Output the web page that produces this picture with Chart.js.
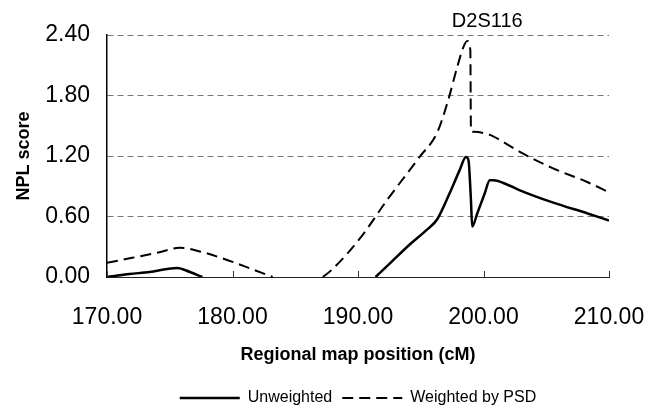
<!DOCTYPE html>
<html>
<head>
<meta charset="utf-8">
<script src="https://cdn.jsdelivr.net/npm/chart.js@4/dist/chart.umd.min.js"></script>
<style>
  html, body { margin: 0; padding: 0; background: #fff; }
  #wrap { width: 650px; height: 418px; }
</style>
</head>
<body>
<div id="wrap"><canvas id="c" width="650" height="418"></canvas></div>
<script>
// ---- Data (x = regional map position in cM, y = NPL score) ----
const unweightedX = [170.0, 171.8, 173.4, 174.8, 175.6, 176.6, 177.6, 184.0, 191.4, 192.5, 194.1, 195.5, 196.3, 197.3, 198.1, 198.6, 198.8, 199.0, 199.1, 199.5, 200.1, 200.5, 200.8, 202.0, 202.9, 205.5, 208.3, 210.0];
const unweightedY = [0.00, 0.03, 0.05, 0.08, 0.09, 0.05, 0.00, null, 0.00, 0.13, 0.32, 0.47, 0.57, 0.83, 1.06, 1.19, 1.16, 0.76, 0.50, 0.63, 0.83, 0.96, 0.96, 0.91, 0.86, 0.74, 0.63, 0.56];

const weightedX = [170.0, 172.0, 174.0, 175.8, 177.5, 180.0, 181.5, 183.2, 185.0, 187.2, 187.9, 190.2, 192.3, 194.9, 196.3, 197.2, 197.9, 198.4, 198.7, 198.95, 199.0, 199.2, 200.5, 201.3, 202.9, 205.5, 208.3, 210.0];
const weightedY = [0.14, 0.19, 0.24, 0.29, 0.25, 0.15, 0.08, 0.00, null, 0.00, 0.07, 0.39, 0.76, 1.19, 1.43, 1.76, 2.08, 2.28, 2.34, 2.25, 1.45, 1.44, 1.41, 1.36, 1.24, 1.08, 0.94, 0.84];

const seriesNames = ['Unweighted', 'Weighted by PSD'];
const xTicks = [170, 180, 190, 200, 210];
const yTicks = [0.00, 0.60, 1.20, 1.80, 2.40];
const markerLabel = 'D2S116';
const markerPos = 200.3;
const xTitle = 'Regional map position (cM)';
const yTitle = 'NPL score';

const FONT = '"Liberation Sans", Arial, Helvetica, sans-serif';

function toPoints(xs, ys) { return xs.map((x, i) => ({ x: x, y: ys[i] })); }

const extras = {
  id: 'extras',
  afterDraw(chart) {
    const ctx = chart.ctx;
    const xs = chart.scales.x;
    const area = chart.chartArea;
    ctx.save();
    // inner tick marks on x axis
    ctx.strokeStyle = '#333';
    ctx.lineWidth = 1;
    xTicks.forEach(v => {
      const px = Math.round(xs.getPixelForValue(v)) + 0.5;
      ctx.beginPath();
      ctx.moveTo(px, area.bottom);
      ctx.lineTo(px, area.bottom - 6);
      ctx.stroke();
    });
    // marker label
    ctx.fillStyle = '#000';
    ctx.font = '20px ' + FONT;
    ctx.textAlign = 'center';
    ctx.textBaseline = 'middle';
    ctx.fillText(markerLabel, xs.getPixelForValue(markerPos), 21);
    ctx.restore();
  }
};

new Chart(document.getElementById('c'), {
  type: 'line',
  data: {
    datasets: [
      {
        label: seriesNames[0],
        data: toPoints(unweightedX, unweightedY),
        borderColor: '#000',
        backgroundColor: '#000',
        borderWidth: 2.5,
        pointRadius: 0,
        cubicInterpolationMode: 'monotone',
        spanGaps: false
      },
      {
        label: seriesNames[1],
        data: toPoints(weightedX, weightedY),
        borderColor: '#000',
        backgroundColor: '#000',
        borderWidth: 2,
        borderDash: [11, 6],
        pointRadius: 0,
        cubicInterpolationMode: 'monotone',
        spanGaps: false
      }
    ]
  },
  options: {
    responsive: false,
    animation: false,
    devicePixelRatio: 1,
    layout: { padding: { top: 35, right: 41, bottom: 2, left: 0 } },
    plugins: {
      legend: {
        position: 'bottom',
        fullSize: false,
        labels: {
          usePointStyle: true,
          pointStyle: 'line',
          pointStyleWidth: 60,
          color: '#000',
          padding: 10,
          font: { family: FONT, size: 16 },
          generateLabels(chart) {
            const items = Chart.defaults.plugins.legend.labels.generateLabels(chart);
            items.forEach((it, i) => {
              const ds = chart.data.datasets[it.datasetIndex !== undefined ? it.datasetIndex : i];
              it.lineDash = ds.borderDash || [];
              it.lineWidth = ds.borderWidth;
              it.strokeStyle = ds.borderColor;
            });
            return items;
          }
        }
      },
      tooltip: { enabled: false }
    },
    scales: {
      x: {
        type: 'linear',
        min: 170,
        max: 210,
        afterBuildTicks(scale) { scale.ticks = xTicks.map(v => ({ value: v })); },
        afterFit(scale) {
          scale.height = 103;
          scale.paddingLeft = 0;
          scale.paddingRight = 0;
        },
        ticks: {
          color: '#000',
          padding: 27,
          maxRotation: 0,
          font: { family: FONT, size: 23 },
          callback: v => Number(v).toFixed(2)
        },
        grid: { display: false, drawTicks: false },
        border: { display: true, color: '#222', width: 1 },
        title: {
          display: true,
          text: xTitle,
          color: '#000',
          padding: { top: 14, bottom: 14 },
          font: { family: FONT, size: 18, weight: 'bold' }
        }
      },
      y: {
        type: 'linear',
        min: 0,
        max: 2.4,
        afterBuildTicks(scale) { scale.ticks = yTicks.map(v => ({ value: v })); },
        afterFit(scale) {
          scale.width = 107;
          scale.paddingTop = 0;
          scale.paddingBottom = 0;
        },
        ticks: {
          color: '#000',
          padding: 17,
          font: { family: FONT, size: 23 },
          callback: v => Number(v).toFixed(2)
        },
        grid: {
          drawTicks: false,
          color: ctx => ctx.tick && ctx.tick.value === 0 ? 'rgba(0,0,0,0)' : '#777',
          lineWidth: 1
        },
        border: { display: true, color: '#000', width: 1.5, dash: [6, 4] },
        title: {
          display: true,
          text: yTitle,
          color: '#000',
          padding: { top: 13, bottom: 13 },
          font: { family: FONT, size: 18, weight: 'bold' }
        }
      }
    }
  },
  plugins: [extras]
});
</script>
</body>
</html>
